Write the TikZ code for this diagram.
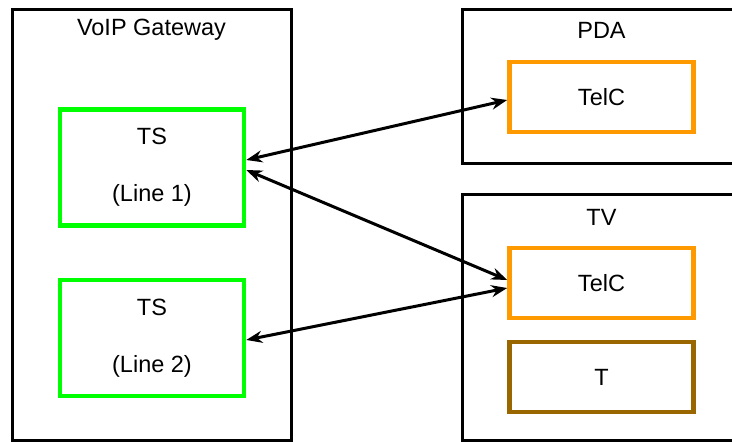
\documentclass[tikz,border=0pt]{standalone}
\usepackage{fontspec}
\setmainfont{Liberation Sans}
\usetikzlibrary{arrows.meta}
\definecolor{tsgreen}{HTML}{00FF00}
\definecolor{telcorange}{HTML}{FF9900}
\definecolor{tbrown}{HTML}{996600}
\begin{document}
\begin{tikzpicture}[x=1pt,y=-1pt,font=\fontsize{23.5}{28}\selectfont,
 host/.style={draw,line width=3pt,inner sep=0pt},
 inner/.style={line width=4.5pt,minimum width=184pt,minimum height=70pt,inner sep=0pt,align=center},
 link/.style={{Stealth[length=16pt,width=12pt]}-{Stealth[length=16pt,width=12pt]},line width=3pt}]
\clip(0,0)rectangle(732,442);
\node[host,minimum width=279pt,minimum height=431pt](gw)at(151.5,224.5){};\node(gwname)at(151.5,30){VoIP Gateway};
\node[host,minimum width=279pt,minimum height=154pt](pda)at(601.5,86){};\node(pdaname)at(601.5,30){PDA};
\node[host,minimum width=279pt,minimum height=246pt](tv)at(601.5,317){};\node(tvname)at(601.5,217){TV};
\node[inner,draw=tsgreen,minimum height=116pt](ts1)at(152,167.5){TS\\[29pt](Line 1)};
\node[inner,draw=tsgreen,minimum height=116pt](ts2)at(152,338){TS\\[29pt](Line 2)};
\node[inner,draw=telcorange](telcpda)at(601.5,97){TelC};
\node[inner,draw=telcorange](telctv)at(601.5,283){TelC};
\node[inner,draw=tbrown](t)at(601.5,377){T};
\draw[link]([yshift=7.5pt]ts1.east)--([yshift=-3pt]telcpda.west);
\draw[link]([yshift=-2.5pt]ts1.east)--([yshift=3pt]telctv.west);
\draw[link]([yshift=-2pt]ts2.east)--([yshift=-5pt]telctv.west);
\end{tikzpicture}
\end{document}
